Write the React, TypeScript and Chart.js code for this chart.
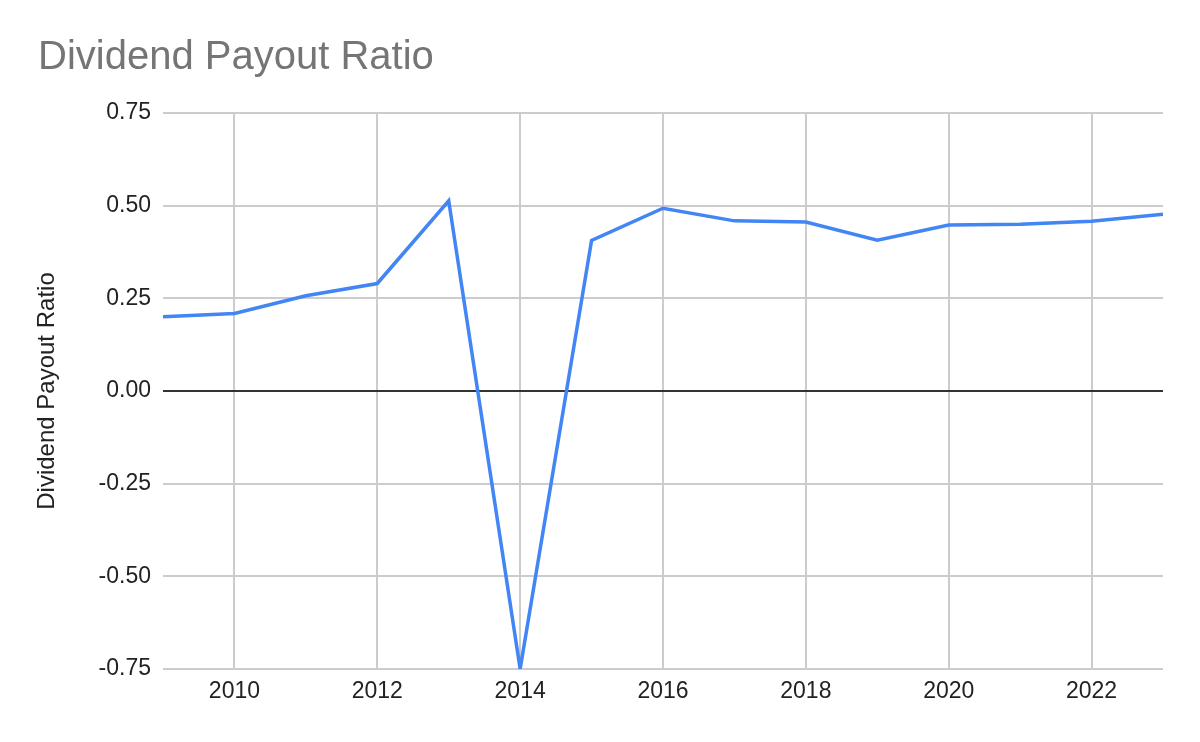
import React, {useEffect, useRef} from "react";
import {Chart, registerables} from 'chart.js';

Chart.register(...registerables)

const years = [2009, 2010, 2011, 2012, 2013, 2014, 2015, 2016, 2017, 2018, 2019, 2020, 2021, 2022, 2023]
const payoutRatio = [0.200, 0.209, 0.257, 0.290, 0.513, -0.75, 0.406, 0.493, 0.459, 0.456, 0.407, 0.448, 0.450, 0.458, 0.477]
const xTickYears = [2010, 2012, 2014, 2016, 2018, 2020, 2022]
const yTickValues = [-0.75, -0.5, -0.25, 0, 0.25, 0.5, 0.75]

const FONT = "Arial, 'Liberation Sans', sans-serif"

// draws the chart title at the top-left, like the sheets export
const titlePlugin = {
    id: 'sheetTitle',
    afterDraw(chart:any){
        const ctx = chart.ctx
        ctx.save()
        ctx.font = `40px ${FONT}`
        ctx.fillStyle = '#757575'
        ctx.textBaseline = 'alphabetic'
        ctx.textAlign = 'left'
        ctx.fillText('Dividend Payout Ratio', 38, 69)
        ctx.restore()
    }
}

const App = () =>{
    const canvasRef = useRef<HTMLCanvasElement>(null)

    useEffect(()=>{
        document.body.style.margin = '0'
        const ctx = canvasRef.current!.getContext('2d')!

        const data = {
            datasets: [
                {
                    label: 'Dividend Payout Ratio',
                    data: years.map((y, i) => ({x: y, y: payoutRatio[i]})),
                    borderColor: '#4285F4',
                    backgroundColor: '#4285F4',
                    borderWidth: 3.5,
                    pointRadius: 0,
                    tension: 0,
                    clip: 0,
                },
            ],
        }

        const config:any = {
            type: 'line',
            data: data,
            plugins: [titlePlugin],
            options: {
                animation: false,
                responsive: false,
                maintainAspectRatio: false,
                layout: {padding: {top: 113, right: 37, bottom: 0, left: 0}},
                plugins: {
                    legend: {display: false},
                    tooltip: {enabled: false},
                },
                scales: {
                    x: {
                        type: 'linear',
                        min: 2009,
                        max: 2023,
                        afterFit: (axis:any) => { axis.height = 73 },
                        afterBuildTicks: (axis:any) => { axis.ticks = xTickYears.map(v => ({value: v})) },
                        grid: {color: '#cccccc', lineWidth: 2, drawTicks: false},
                        border: {display: false},
                        ticks: {
                            padding: 9,
                            color: '#222222',
                            font: {family: FONT, size: 23},
                            callback: (v:number) => String(v),
                            maxRotation: 0,
                        },
                    },
                    y: {
                        min: -0.75,
                        max: 0.75,
                        afterFit: (axis:any) => { axis.width = 163 },
                        afterBuildTicks: (axis:any) => { axis.ticks = yTickValues.map(v => ({value: v})) },
                        grid: {
                            color: (c:any) => c.tick && c.tick.value === 0 ? '#333333' : '#cccccc',
                            lineWidth: 2,
                            drawTicks: false,
                        },
                        border: {display: false},
                        ticks: {
                            padding: 12,
                            color: '#222222',
                            font: {family: FONT, size: 23},
                            callback: (v:number) => v.toFixed(2),
                        },
                        title: {
                            display: true,
                            text: 'Dividend Payout Ratio',
                            color: '#222222',
                            font: {family: FONT, size: 24},
                            padding: {top: 33, bottom: 0},
                        },
                    },
                },
            },
        }

        const myChart = new Chart(ctx, config)
        return ()=>{myChart.destroy()}
    }, [])

    return (
        <div style={{width:"1200px", height:"742px", background:"#ffffff"}}>
            <canvas ref={canvasRef} width={1200} height={742} style={{width:"1200px", height:"742px"}}></canvas>
        </div>
    )
}

export default App
